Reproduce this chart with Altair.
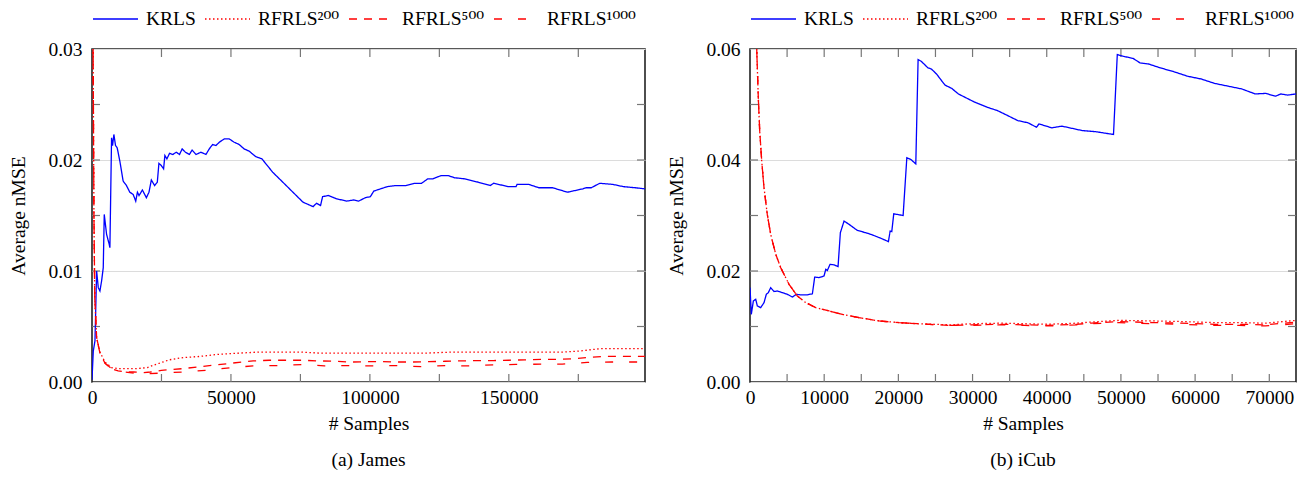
import altair as alt
import pandas as pd

FONT = "Liberation Serif"
LEGFONT = "Liberation Serif, DejaVu Serif"
FS = 19.5
SERIES = ["KRLS", "RFRLS²⁰⁰", "RFRLS⁵⁰⁰", "RFRLS¹⁰⁰⁰"]
COLORS = ["#0000ff", "#ff0000", "#ff0000", "#ff0000"]
DASHES = [[1, 0], [1.5, 2.5], [8, 7], [8, 16]]

# ---------------- James ----------------
james_krls_x = [0, 470, 1070, 1670, 2260, 2860, 3450, 4050, 4410, 5250, 6200, 6440, 7040, 7400, 7870,
                8470, 9060, 10020, 11210, 12400, 13600, 14800, 15740, 16350, 16930, 18140, 19570, 20500,
                21360, 22540, 23500, 24080, 24940, 25760, 26230, 26940, 27910, 29100, 30300, 31490, 32450,
                33630, 35060, 36030, 37430, 39200, 41000, 42200, 43400, 44600, 45800, 47590, 49380, 51170,
                52950, 54740, 56530, 58960, 61150, 65020, 68670, 72300, 75930, 77750, 79570, 80790, 82250,
                82980, 85050, 88060, 91700, 94130, 95960, 98350, 100180, 101400, 103830, 106260, 109300,
                112900, 115930, 118600, 120800, 122600, 125660, 128100, 130500, 134200, 139000, 143300,
                144500, 149900, 152600, 152950, 157200, 160800, 165700, 171100, 172950, 176600, 177800,
                179650, 182700, 187500, 191200, 195500, 199000]
james_krls_y = [0.0002, 0.0028, 0.0037, 0.0100, 0.0085, 0.0082, 0.0091, 0.0103, 0.0151, 0.0133, 0.0124,
                0.0121, 0.0220, 0.0213, 0.0223, 0.0213, 0.0211, 0.0199, 0.0181, 0.0177, 0.0171, 0.0169,
                0.0163, 0.0171, 0.0168, 0.0173, 0.0166, 0.0171, 0.0182, 0.0177, 0.0180, 0.0197, 0.0195,
                0.0192, 0.0204, 0.0201, 0.0206, 0.0205, 0.0207, 0.0205, 0.0210, 0.0207, 0.0205, 0.0209,
                0.0205, 0.0207, 0.0205, 0.0210, 0.0214, 0.0213, 0.0216, 0.0219, 0.0219, 0.0216, 0.0214,
                0.0210, 0.0208, 0.0203, 0.0201, 0.0189, 0.0180, 0.0171, 0.0162, 0.0160, 0.0158, 0.0161,
                0.0159, 0.0167, 0.0168, 0.0165, 0.0163, 0.0164, 0.0163, 0.0166, 0.0167, 0.0172, 0.0174,
                0.0176, 0.0177, 0.0177, 0.0179, 0.0179, 0.0183, 0.0183, 0.0186, 0.0186, 0.0184, 0.0183,
                0.0180, 0.0177, 0.0179, 0.0176, 0.0176, 0.0178, 0.0178, 0.0175, 0.0175, 0.0171, 0.0172,
                0.0174, 0.0175, 0.0175, 0.0179, 0.0178, 0.0176, 0.0175, 0.0174]

james_r200_x = [0, 400, 700, 1000, 1670, 2860, 4650, 7040, 9400, 12000, 16000, 19900, 23100, 27900, 32800,
                38600, 45800, 52900, 60100, 67000, 75000, 82000, 90000, 100000, 110000, 120000, 130000,
                140000, 150000, 160000, 170000, 176000, 182700, 199000]
james_r200_y = [0.06, 0.03, 0.015, 0.0075, 0.0040, 0.0027, 0.0018, 0.0013, 0.0012, 0.0012, 0.0012, 0.0013,
                0.0016, 0.0020, 0.0022, 0.0023, 0.0025, 0.0026, 0.0027, 0.0027, 0.0027, 0.0026, 0.0026,
                0.0026, 0.0026, 0.0026, 0.0027, 0.0027, 0.0027, 0.0027, 0.0027, 0.0028, 0.0030, 0.0030]

james_r500_x = [0, 400, 700, 1000, 1670, 2860, 4650, 7040, 9400, 12000, 15000, 18500, 21000, 25000, 32500,
                41500, 50400, 58000, 63800, 69550, 75960, 81080, 87450, 93200, 98970, 104100, 110460,
                115570, 121300, 127040, 132800, 138570, 144340, 150070, 155820, 161590, 167320, 173070,
                178190, 183900, 189630, 199000]
james_r500_y = [0.06, 0.03, 0.015, 0.0075, 0.0040, 0.0026, 0.0017, 0.0012, 0.0010, 0.0009, 0.0009, 0.00085,
                0.0009, 0.00105, 0.0012, 0.00145, 0.0017, 0.0019, 0.00196, 0.00196, 0.00196, 0.0019,
                0.00187, 0.0018, 0.00183, 0.00183, 0.0018, 0.0018, 0.00183, 0.00187, 0.0019, 0.00193,
                0.00193, 0.00196, 0.0020, 0.00203, 0.00203, 0.0021, 0.0022, 0.0023, 0.0023, 0.0023]

james_r1000_x = [0, 400, 700, 1000, 1670, 2860, 4650, 7040, 9400, 12000, 15000, 20000, 25000, 32500, 41500,
                 50400, 58000, 67000, 75960, 83600, 92560, 101500, 109800, 118750, 127040, 135400, 144340,
                 152600, 161590, 169240, 178190, 187100, 199000]
james_r1000_y = [0.06, 0.03, 0.015, 0.0075, 0.0040, 0.0026, 0.0017, 0.0012, 0.0010, 0.0009, 0.0008, 0.00075,
                 0.0008, 0.0009, 0.00106, 0.0013, 0.00145, 0.00148, 0.00158, 0.00145, 0.00148, 0.00145,
                 0.00148, 0.00138, 0.00148, 0.00145, 0.00155, 0.00158, 0.00161, 0.00161, 0.00177, 0.0018,
                 0.0018]

# ---------------- iCub ----------------
icub_krls_x = [0, 180, 450, 770, 990, 1440, 1890, 2200, 2470, 2790, 3240, 3690, 4360, 5040, 5710, 6250,
               6840, 7730, 8410, 8720, 9310, 9980, 10210, 10430, 10790, 11330, 11870, 12180, 12680, 13360,
               14480, 15610, 16500, 17630, 18660, 18890, 19110, 19380, 20640, 21140, 21680, 22350, 22660,
               23070, 23990, 24450, 25140, 26280, 27190, 28100, 30160, 31990, 33360, 34740, 36100, 37480,
               38620, 38950, 40680, 42050, 44790, 46620, 49000, 49510, 50280, 51650, 52570, 53720, 55310,
               57150, 58970, 60800, 62640, 64460, 66290, 68110, 69490, 70860, 71550, 72460, 73600]
icub_krls_y = [0.0170, 0.0122, 0.0146, 0.0149, 0.0137, 0.0134, 0.0143, 0.0158, 0.0161, 0.0170, 0.0163,
               0.0164, 0.0161, 0.0158, 0.0153, 0.0158, 0.0157, 0.0157, 0.0159, 0.0189, 0.0188, 0.0191,
               0.0203, 0.0201, 0.0212, 0.0211, 0.0208, 0.0269, 0.0290, 0.0284, 0.0273, 0.0269, 0.0265,
               0.0259, 0.0253, 0.0272, 0.0271, 0.0303, 0.0300, 0.0404, 0.0401, 0.0393, 0.0581, 0.0578,
               0.0566, 0.0564, 0.0555, 0.0535, 0.0529, 0.0519, 0.0505, 0.0495, 0.0489, 0.0480, 0.0471,
               0.0467, 0.0459, 0.0465, 0.0458, 0.0461, 0.0453, 0.0451, 0.0446, 0.0590, 0.0587, 0.0583,
               0.0575, 0.0573, 0.0566, 0.0559, 0.0551, 0.0546, 0.0538, 0.0533, 0.0528, 0.0519, 0.0520,
               0.0515, 0.0519, 0.0517, 0.0519]

icub_r_x = [0, 500, 900, 1120, 1310, 1580, 1890, 2330, 2790, 3470, 4140, 5260, 6380, 7510, 8860, 10660,
            12450, 14700, 17400, 20100, 22570, 26950, 30000, 33820, 37000, 40200, 44000, 46000, 49780,
            54400, 58000, 62600, 66000, 69470, 73600]
icub_r200_y = [0.12, 0.08, 0.0602, 0.0512, 0.0452, 0.0398, 0.0350, 0.0302, 0.0266, 0.0230, 0.0206, 0.0176,
               0.0155, 0.0143, 0.0134, 0.0128, 0.0122, 0.0116, 0.0110, 0.0107, 0.0105, 0.0103, 0.0105,
               0.0106, 0.0105, 0.0104, 0.0106, 0.0108, 0.0111, 0.0110, 0.0109, 0.0107, 0.0107, 0.0106,
               0.0111]
icub_r500_y = [0.12, 0.08, 0.0602, 0.0512, 0.0452, 0.0398, 0.0350, 0.0302, 0.0266, 0.0230, 0.0206, 0.0176,
               0.0155, 0.0143, 0.0134, 0.0128, 0.0122, 0.0116, 0.0110, 0.0107, 0.0105, 0.0102, 0.0103,
               0.0104, 0.0103, 0.0102, 0.0104, 0.0106, 0.0109, 0.0107, 0.0106, 0.0104, 0.0104, 0.0103,
               0.0108]
icub_r1000_y = [0.12, 0.08, 0.0602, 0.0512, 0.0452, 0.0398, 0.0350, 0.0302, 0.0266, 0.0230, 0.0206, 0.0176,
                0.0155, 0.0143, 0.0134, 0.0128, 0.0122, 0.0116, 0.0110, 0.0107, 0.0105, 0.0102, 0.0102,
                0.0103, 0.0102, 0.0101, 0.0103, 0.0105, 0.0107, 0.0105, 0.0104, 0.0102, 0.0102, 0.0101,
                0.0105]

# axis ticks / labels
james_xmax, james_ymax = 199000, 0.03
james_xlabels = [0, 50000, 100000, 150000]
james_xticks = [25000, 50000, 75000, 100000, 125000, 150000, 175000]
james_ylabels = [0.0, 0.01, 0.02, 0.03]
james_yticks = [0.005, 0.01, 0.015, 0.02, 0.025]

icub_xmax, icub_ymax = 73600, 0.06
icub_xlabels = [0, 10000, 20000, 30000, 40000, 50000, 60000, 70000]
icub_xticks = [5000, 10000, 15000, 20000, 25000, 30000, 35000, 40000, 45000, 50000, 55000, 60000, 65000, 70000]
icub_ylabels = [0.0, 0.02, 0.04, 0.06]
icub_yticks = [0.01, 0.02, 0.03, 0.04, 0.05]


def long_df(pairs):
    rows = []
    for name, xs, ys in pairs:
        for a, b in zip(xs, ys):
            rows.append({"x": a, "y": b, "series": name})
    return pd.DataFrame(rows)


def panel(df, xmax, ymax, xlabels, xticks, ylabels, yticks, caption, W, H):
    xs = alt.Scale(domain=[0, xmax], nice=False, zero=False)
    ys = alt.Scale(domain=[0, ymax], nice=False, zero=False)
    common = dict(labelFont=FONT, titleFont=FONT, labelFontSize=FS, titleFontSize=FS,
                  titleFontWeight="normal", labelColor="black", titleColor="black",
                  ticks=False, domain=False, labelFlush=False)
    xaxis = alt.Axis(values=xlabels, format="d", title="# Samples", grid=False,
                     labelPadding=6, titlePadding=8, **common)
    yaxis = alt.Axis(values=ylabels, format=".2f", title="Average nMSE", grid=True,
                     gridColor="#dcdcdc", gridWidth=1, labelPadding=10, titlePadding=19, **common)
    X = alt.X("x:Q", scale=xs, axis=xaxis)
    Y = alt.Y("y:Q", scale=ys, axis=yaxis)
    leg = alt.Legend(title=None, orient="none", legendX=0, legendY=-40, direction="horizontal",
                     symbolType="stroke", symbolSize=2025, symbolStrokeWidth=1.5, clipHeight=20,
                     labelFont=LEGFONT, labelFontSize=FS, labelColor="black", labelOffset=7,
                     columnPadding=8, labelLimit=300, padding=0)
    lines = alt.Chart(df).mark_line(clip=True, strokeWidth=1.3).encode(
        x=X, y=Y,
        color=alt.Color("series:N", scale=alt.Scale(domain=SERIES, range=COLORS), legend=leg),
        strokeDash=alt.StrokeDash("series:N", scale=alt.Scale(domain=SERIES, range=DASHES), legend=leg),
    )
    xt = pd.DataFrame({"x": xticks})
    yt = pd.DataFrame({"y": yticks})
    tk = dict(color="#777777", strokeWidth=1.2)
    tb = alt.Chart(xt).mark_rule(**tk).encode(x=X, y=alt.value(H), y2=alt.value(H - 8))
    tt = alt.Chart(xt).mark_rule(**tk).encode(x=X, y=alt.value(0), y2=alt.value(8))
    tl = alt.Chart(yt).mark_rule(**tk).encode(y=Y, x=alt.value(0), x2=alt.value(8))
    tr = alt.Chart(yt).mark_rule(**tk).encode(y=Y, x=alt.value(W), x2=alt.value(W - 8))
    return alt.layer(tb, tt, tl, tr, lines).properties(
        width=W, height=H,
        title=alt.TitleParams(caption, orient="bottom", anchor="middle", frame="group", font=FONT,
                              fontSize=FS, fontWeight="normal", color="black", offset=18),
    )


james_df = long_df([
    (SERIES[0], james_krls_x, james_krls_y),
    (SERIES[1], james_r200_x, james_r200_y),
    (SERIES[2], james_r500_x, james_r500_y),
    (SERIES[3], james_r1000_x, james_r1000_y),
])
icub_df = long_df([
    (SERIES[0], icub_krls_x, icub_krls_y),
    (SERIES[1], icub_r_x, icub_r200_y),
    (SERIES[2], icub_r_x, icub_r500_y),
    (SERIES[3], icub_r_x, icub_r1000_y),
])

left = panel(james_df, james_xmax, james_ymax, james_xlabels, james_xticks, james_ylabels, james_yticks,
             "(a) James", 553, 333)
right = panel(icub_df, icub_xmax, icub_ymax, icub_xlabels, icub_xticks, icub_ylabels, icub_yticks,
              "(b) iCub", 546, 333)

chart = alt.hconcat(left, right, spacing=19).resolve_scale(
    x="independent", y="independent", color="independent", strokeDash="independent"
).resolve_legend(color="independent", strokeDash="independent").properties(
    padding=0, background="white"
).configure_view(stroke="#222222", strokeWidth=1.6)

chart.save("out.html", embed_options={"renderer": "svg", "actions": False})
